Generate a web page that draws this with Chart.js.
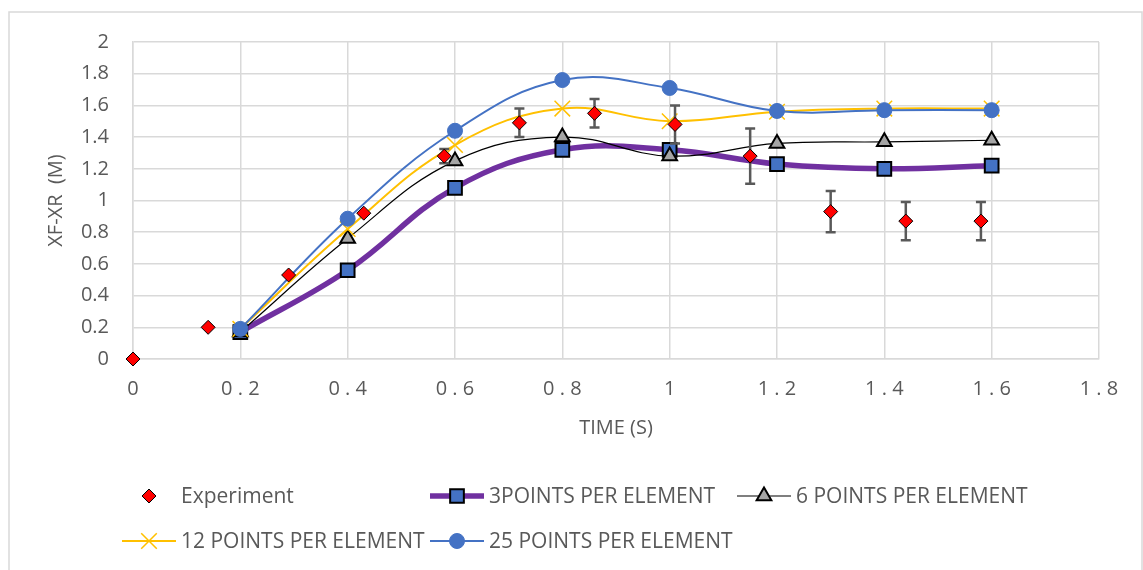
<!DOCTYPE html>
<html>
<head>
<meta charset="utf-8">
<script src="https://cdn.jsdelivr.net/npm/chart.js@4.4.1/dist/chart.umd.min.js"></script>
<style>
  html, body { margin: 0; padding: 0; background: #fff; }
  #wrap { width: 1143px; height: 570px; position: relative; }
</style>
</head>
<body>
<div id="wrap"><canvas id="c"></canvas></div>
<script>
// simulation times (s)
const simTime = [0.2, 0.4, 0.6, 0.8, 1.0, 1.2, 1.4, 1.6];
const pts3 = [0.17, 0.56, 1.08, 1.32, 1.32, 1.23, 1.20, 1.22];
const pts6 = [0.17, 0.76, 1.25, 1.40, 1.28, 1.36, 1.37, 1.38];
const pts12 = [0.19, 0.82, 1.35, 1.58, 1.50, 1.56, 1.58, 1.58];
const pts25 = [0.19, 0.885, 1.44, 1.76, 1.71, 1.565, 1.57, 1.57];

// experiment with error bars
const expTime = [0, 0.14, 0.29, 0.43, 0.58, 0.72, 0.86, 1.01, 1.15, 1.30, 1.44, 1.58];
const expVal = [0, 0.20, 0.53, 0.92, 1.28, 1.49, 1.55, 1.48, 1.28, 0.93, 0.87, 0.87];
const expErr = [0, 0, 0, 0, 0.045, 0.09, 0.09, 0.12, 0.175, 0.13, 0.12, 0.12];

const legendNames = ["Experiment", "3POINTS PER ELEMENT", "6 POINTS PER ELEMENT",
  "12 POINTS PER ELEMENT", "25 POINTS PER ELEMENT"];

const TXT = "#595959";
const GRID = "#d9d9d9";
Chart.defaults.font.family = "'Open Sans', sans-serif";
Chart.defaults.font.size = 20;
Chart.defaults.color = TXT;

const xy = (xs, ys) => xs.map((x, i) => ({ x, y: ys[i] }));

const series = [
  { label: legendNames[0], data: xy(expTime, expVal), showLine: false, order: 0, clip: false,
    pointStyle: "rectRot", pointRadius: 7, backgroundColor: "#ff0000", borderColor: "#000", pointBorderWidth: 1 },
  { label: legendNames[1], data: xy(simTime, pts3), order: 4, borderColor: "#7030a0", borderWidth: 5.5,
    pointStyle: "rect", pointRadius: 9.7, pointBackgroundColor: "#4472c4", pointBorderColor: "#000", pointBorderWidth: 2 },
  { label: legendNames[2], data: xy(simTime, pts6), order: 3, borderColor: "#000", borderWidth: 1.2,
    pointStyle: "triangle", pointRadius: 8.5, pointBackgroundColor: "#a5a5a5", pointBorderColor: "#000", pointBorderWidth: 2 },
  { label: legendNames[3], data: xy(simTime, pts12), order: 2, borderColor: "#ffc000", borderWidth: 2,
    pointStyle: "crossRot", pointRadius: 11, pointBorderColor: "#ffc000", pointBorderWidth: 1.5 },
  { label: legendNames[4], data: xy(simTime, pts25), order: 1, borderColor: "#4472c4", borderWidth: 2,
    pointStyle: "circle", pointRadius: 7.5, pointBackgroundColor: "#4472c4", pointBorderColor: "#4472c4", pointBorderWidth: 1 }
];

const errorBars = {
  id: "errorBars",
  beforeDatasetDraw(chart, args) {
    if (args.index !== 0) return;
    const { ctx, scales: { x, y } } = chart;
    ctx.save();
    ctx.strokeStyle = "#595959";
    ctx.lineWidth = 2.5;
    expTime.forEach((t, i) => {
      const e = expErr[i];
      if (!e) return;
      const px = x.getPixelForValue(t);
      const top = y.getPixelForValue(expVal[i] + e);
      const bot = y.getPixelForValue(expVal[i] - e);
      ctx.beginPath();
      ctx.moveTo(px, top); ctx.lineTo(px, bot);
      ctx.moveTo(px - 5, top); ctx.lineTo(px + 5, top);
      ctx.moveTo(px - 5, bot); ctx.lineTo(px + 5, bot);
      ctx.stroke();
    });
    ctx.restore();
  }
};

const frame = {
  id: "frame",
  beforeDraw(chart) {
    const ctx = chart.ctx;
    ctx.save();
    ctx.fillStyle = "#fff";
    ctx.fillRect(0, 0, chart.width, chart.height);
    ctx.strokeStyle = GRID;
    ctx.lineWidth = 1.5;
    ctx.strokeRect(9, 12, 1133, 600);
    ctx.restore();
  }
};

// legend: two rows, three columns, line + marker + text
const legendSlots = [
  { ds: 0, cx: 149, cy: 496, line: false },
  { ds: 1, cx: 457, cy: 496, line: true },
  { ds: 2, cx: 764, cy: 496, line: true },
  { ds: 3, cx: 149, cy: 541, line: true },
  { ds: 4, cx: 457, cy: 541, line: true }
];
const customLegend = {
  id: "customLegend",
  afterDraw(chart) {
    const ctx = chart.ctx;
    ctx.save();
    legendSlots.forEach(s => {
      const d = chart.data.datasets[s.ds];
      if (s.line) {
        ctx.strokeStyle = d.borderColor;
        ctx.lineWidth = d.borderWidth;
        ctx.beginPath();
        ctx.moveTo(s.cx - 27, s.cy);
        ctx.lineTo(s.cx + 27, s.cy);
        ctx.stroke();
      }
      ctx.fillStyle = d.pointBackgroundColor || d.backgroundColor;
      ctx.strokeStyle = d.pointBorderColor || d.borderColor;
      ctx.lineWidth = d.pointBorderWidth;
      Chart.helpers.drawPoint(ctx, { pointStyle: d.pointStyle, radius: d.pointRadius, rotation: 0, borderWidth: d.pointBorderWidth }, s.cx, s.cy);
      ctx.fillStyle = TXT;
      ctx.font = "21px 'Open Sans', sans-serif";
      ctx.textBaseline = "middle";
      ctx.textAlign = "left";
      ctx.fillText(d.label, s.cx + 32, s.cy + 1);
    });
    ctx.restore();
  }
};

new Chart(document.getElementById("c"), {
  type: "line",
  data: { datasets: series },
  options: {
    responsive: true,
    maintainAspectRatio: false,
    animation: false,
    layout: { padding: { left: 10, top: 42, right: 44, bottom: 130 } },
    elements: { line: { tension: 0.4, fill: false } },
    plugins: { legend: { display: false }, tooltip: { enabled: false } },
    scales: {
      x: {
        type: "linear", min: 0, max: 1.8,
        afterFit(scale) { scale.height = 81; },
        ticks: { stepSize: 0.2, padding: 18, color: TXT,
          callback: v => String(+v.toFixed(1)).split("").join(" ") },
        grid: { color: GRID, lineWidth: 1.5, drawTicks: false },
        border: { color: GRID, width: 1.5 },
        title: { display: true, text: "TIME (S)", color: TXT, padding: { top: 0, bottom: 0 } }
      },
      y: {
        min: 0, max: 2,
        afterFit(scale) { scale.width = 123; },
        ticks: { stepSize: 0.2, padding: 24, color: TXT,
          callback: v => String(+v.toFixed(1)) },
        grid: { color: GRID, lineWidth: 1.5, drawTicks: false },
        border: { color: GRID, width: 1.5 },
        title: { display: true, text: "XF-XR  (M)", color: TXT, padding: { top: 34, bottom: 0 } }
      }
    }
  },
  plugins: [frame, errorBars, customLegend]
});
</script>
</body>
</html>
